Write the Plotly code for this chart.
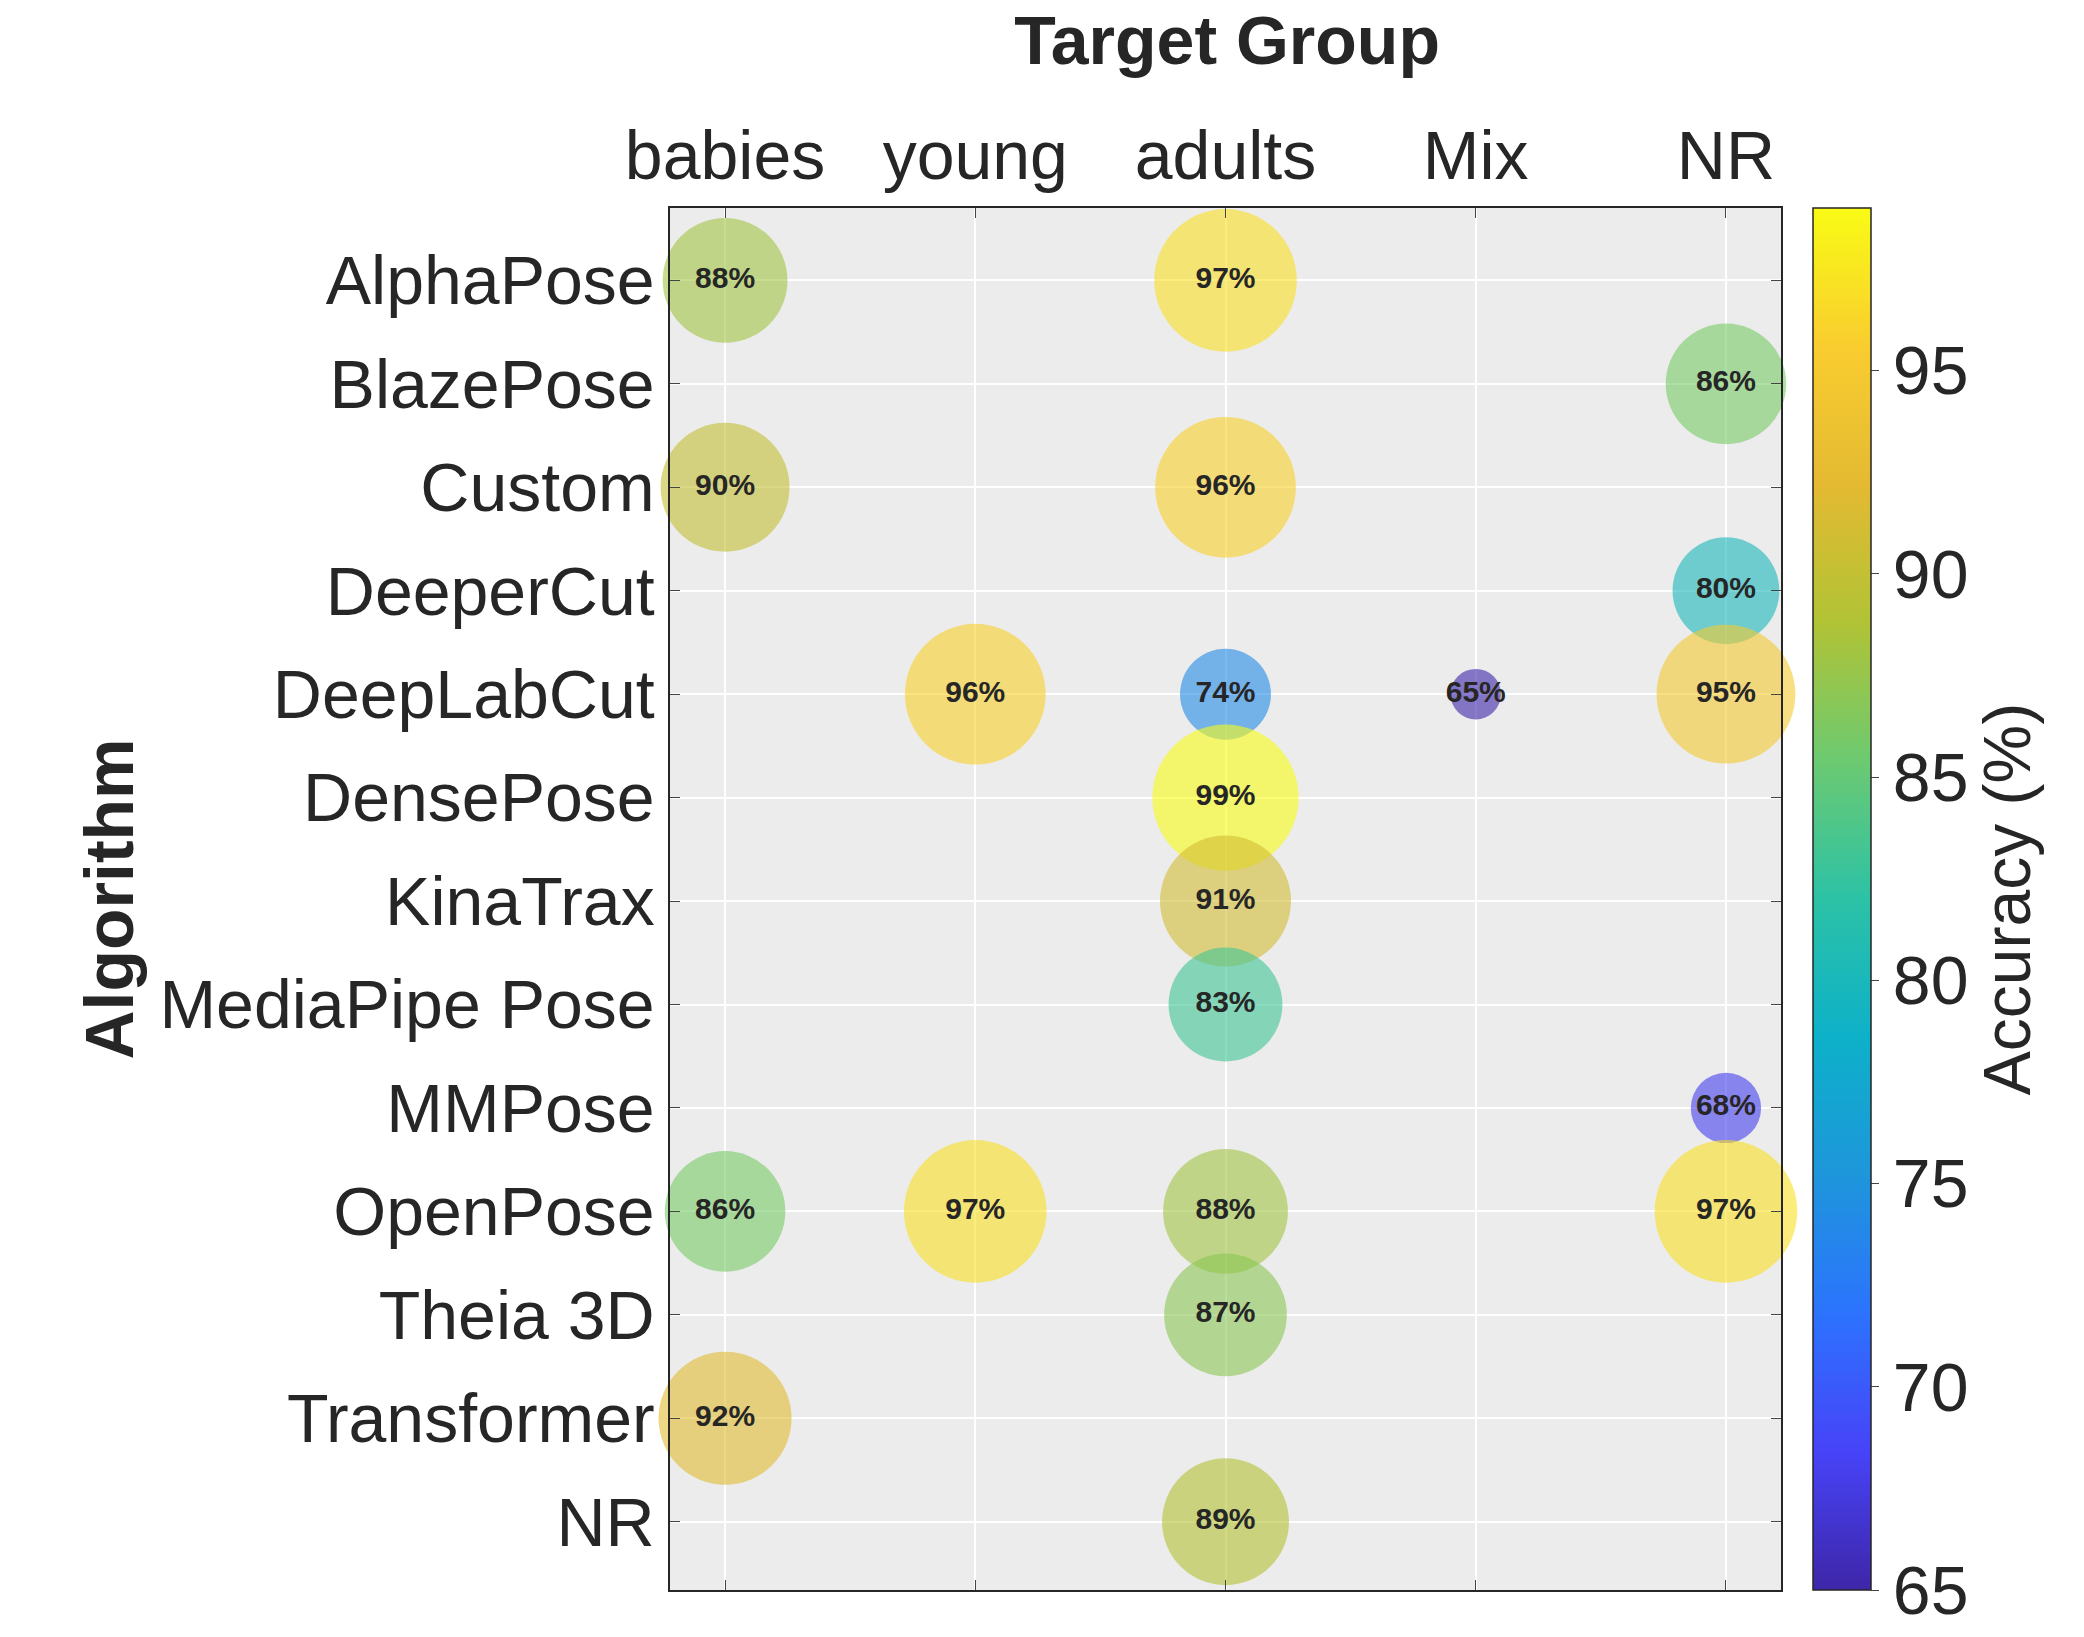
import numpy as np
import plotly.graph_objects as go

groups = ["babies", "young", "adults", "Mix", "NR"]
algorithms = ["AlphaPose", "BlazePose", "Custom", "DeeperCut", "DeepLabCut", "DensePose",
              "KinaTrax", "MediaPipe Pose", "MMPose", "OpenPose", "Theia 3D", "Transformer", "NR"]

# (algorithm, group, accuracy %)
pt_alg = ["AlphaPose", "AlphaPose", "BlazePose", "Custom", "Custom", "DeeperCut",
          "DeepLabCut", "DeepLabCut", "DeepLabCut", "DeepLabCut", "DensePose", "KinaTrax",
          "MediaPipe Pose", "MMPose", "OpenPose", "OpenPose", "OpenPose", "OpenPose",
          "Theia 3D", "Transformer", "NR"]
pt_grp = ["babies", "adults", "NR", "babies", "adults", "NR",
          "young", "adults", "Mix", "NR", "adults", "adults",
          "adults", "NR", "babies", "young", "adults", "NR",
          "adults", "babies", "adults"]
pt_acc = [88, 97, 86, 90, 96, 80,
          96, 74, 65, 95, 99, 91,
          83, 68, 86, 97, 88, 97,
          87, 92, 89]

parula = [[0.0, "#3e26a8"], [0.1, "#4743f8"], [0.2, "#2c73fe"], [0.3, "#1e96db"],
          [0.4, "#0db1c9"], [0.5, "#2cc2a6"], [0.6, "#6cca71"], [0.7, "#b1c335"],
          [0.8, "#e4ba32"], [0.9, "#f9cd2f"], [1.0, "#f9fb15"]]

xs = [groups.index(g) for g in pt_grp]
ys = [algorithms.index(a) for a in pt_alg]
acc = np.array(pt_acc, dtype=float)
sizes = 1.33 * (38 + 72 * ((acc - 65) / 34) ** 0.65)

fig = go.Figure(go.Scatter(
    x=xs, y=ys, mode="markers+text",
    text=[f"{v}%" for v in pt_acc],
    textfont=dict(family="Liberation Sans", size=30, color="#262626", weight="bold"),
    textposition="middle center",
    marker=dict(size=sizes, sizemode="diameter", color=acc, colorscale=parula,
                cmin=65, cmax=99, opacity=0.6, line=dict(width=0),
                colorbar=dict(tickvals=[65, 70, 75, 80, 85, 90, 95], len=1.0, lenmode="fraction",
                              y=0.5, yanchor="middle", x=1.02, ypad=0, thickness=58, outlinewidth=1.5,
                              outlinecolor="#262626", ticks="outside", ticklen=8,
                              tickfont=dict(size=68, color="#262626"),
                              title=dict(text="Accuracy (%)", side="right",
                                         font=dict(size=66, color="#262626")))),
    cliponaxis=False, hoverinfo="skip"))

fig.update_layout(
    width=2084, height=1637, paper_bgcolor="white", plot_bgcolor="#ececec",
    font=dict(family="Liberation Sans", color="#262626"),
    margin=dict(l=662, r=311, t=200, b=55),
    title=dict(text="<b>Target Group</b>", x=0.585, xanchor="center", y=0.995, yanchor="top",
               font=dict(size=68, color="#262626")),
    showlegend=False,
)
fig.update_xaxes(side="top", tickvals=list(range(len(groups))), ticktext=groups,
                 range=[-0.22, 4.22], showgrid=True, gridcolor="white", gridwidth=2,
                 zeroline=False, tickfont=dict(size=68), ticks="inside", ticklen=10,
                 mirror="ticks", showline=True, linecolor="#262626", linewidth=1.5)
fig.update_yaxes(tickvals=list(range(len(algorithms))), ticktext=algorithms,
                 range=[12.66, -0.7], showgrid=True, gridcolor="white", gridwidth=2,
                 zeroline=False, tickfont=dict(size=68), ticks="inside", ticklen=10,
                 mirror="ticks", showline=True, linecolor="#262626", linewidth=1.5,
                 title=dict(text="<b>Algorithm</b>", font=dict(size=68), standoff=4))

fig.write_html("out.html")
